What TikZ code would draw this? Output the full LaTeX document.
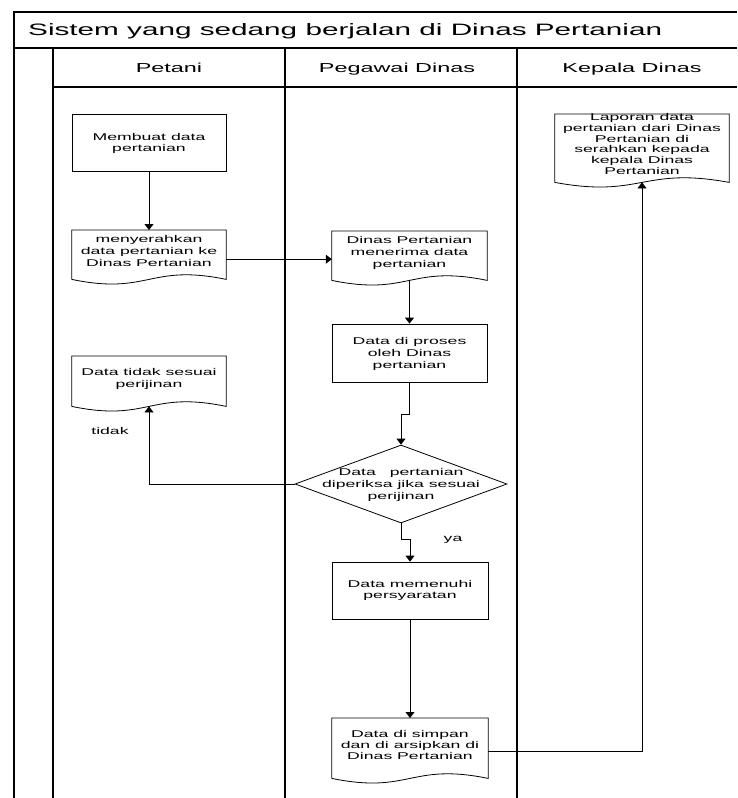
\documentclass[tikz,border=0pt]{standalone}
\usepackage{fontspec}
\setmainfont{Liberation Sans}[FakeStretch=1.8]
\usetikzlibrary{arrows.meta,shapes.geometric}

% outline of a document symbol: straight top and sides, wavy bottom edge
% #1 = name of the rectangular area node, #2 = its width
\newcommand\docoutline[2]{%
  \draw[shapeline] (#1.south west) -- (#1.north west) -- (#1.north east) -- (#1.south east)
    .. controls +(-0.5*#2,-16) and +(0.5*#2,16) .. (#1.south west);
}

\begin{document}
\begin{tikzpicture}[x=1pt,y=-1pt,
  frame/.style={line width=1.1pt},
  shapeline/.style={line width=0.8pt},
  flowline/.style={line width=0.8pt},
  arrowline/.style={flowline,-{Triangle[length=6pt,width=9pt]}},
  procbox/.style={draw,shapeline,rectangle,inner sep=0pt,minimum width=154pt,minimum height=57pt},
  docarea/.style={rectangle,inner sep=0pt,anchor=north},
  boxtext/.style={align=center,inner sep=0pt,font=\fontsize{9.8}{12}\selectfont},
  lanehead/.style={anchor=base,inner sep=0pt,font=\fontsize{13}{15}\selectfont},
]
\useasboundingbox (0,0) rectangle (737,798);

% swimlane frame
\draw[frame] (14,798) -- (14,12) -- (737,12);
\draw[frame] (14,48) -- (737,48);
\draw[frame] (53,87) -- (737,87);
\draw[frame] (53,48) -- (53,798);
\draw[frame] (285,48) -- (285,798);
\draw[frame] (517,48) -- (517,798);

\node[anchor=base west,inner sep=0pt,font=\fontsize{16.5}{18}\selectfont] (title) at (28,35)
  {Sistem yang sedang berjalan di Dinas Pertanian};
\node[lanehead] (lane-petani) at (169,72) {Petani};
\node[lanehead] (lane-pegawai) at (397,72) {Pegawai Dinas};
\node[lanehead] (lane-kepala) at (632,72) {Kepala Dinas};

% Petani
\node[procbox] (b1) at (149,143) {};
\node[boxtext,font=\fontsize{9.8}{11}\selectfont] (b1-text) at (149,143) {Membuat data\\pertanian};

\node[docarea,minimum width=154pt,minimum height=49pt] (d1) at (149,230) {};
\docoutline{d1}{154}
\node[boxtext] (d1-text) at (149,251) {menyerahkan\\data pertanian ke\\Dinas Pertanian};

\node[docarea,minimum width=154pt,minimum height=50pt] (d3) at (149,356) {};
\docoutline{d3}{154}
\node[boxtext] (d3-text) at (149,379) {Data tidak sesuai\\perijinan};

% Pegawai Dinas
\node[docarea,minimum width=155pt,minimum height=49pt] (d2) at (409.5,231) {};
\docoutline{d2}{155}
\node[boxtext] (d2-text) at (409.5,253) {Dinas Pertanian\\menerima data\\pertanian};

\node[procbox,minimum width=155pt,minimum height=58pt] (b3) at (409.5,353) {};
\node[boxtext] (b3-text) at (409.5,354) {Data di proses\\oleh Dinas\\pertanian};

\node[draw,shapeline,diamond,inner sep=0pt,minimum width=212pt,minimum height=78pt] (dec) at (401,484) {};
\node[boxtext] (dec-text) at (401,485) {Data\hspace{14pt}pertanian\\diperiksa jika sesuai\\perijinan};

\node[procbox,minimum width=156pt] (b4) at (410,590.5) {};
\node[boxtext,font=\fontsize{9.8}{11}\selectfont] (b4-text) at (410,590) {Data memenuhi\\persyaratan};

\node[docarea,minimum width=156pt,minimum height=60pt] (d5) at (410,718) {};
\docoutline{d5}{156}
\node[boxtext,font=\fontsize{9.8}{11}\selectfont] (d5-text) at (410,744.5) {Data di simpan\\dan di arsipkan di\\Dinas Pertanian};

% Kepala Dinas
\node[docarea,minimum width=174pt,minimum height=68pt] (d6) at (642,114) {};
\docoutline{d6}{174}
\node[boxtext,font=\fontsize{9.8}{10.8}\selectfont] (d6-text) at (642,144)
  {Laporan data\\pertanian dari Dinas\\Pertanian di\\serahkan kepada\\kepala Dinas\\Pertanian};

% connectors
\draw[arrowline] (b1.south) -- (d1.north);
\draw[arrowline] ([yshift=-4.5pt]d1.east) -- ([yshift=-4.5pt]d1.east -| d2.west);
\draw[arrowline] (d2.south) -- (b3.north);
\draw[arrowline] (b3.south) -- ++(0,32) -| (dec.north);
\draw[arrowline] (dec.west) -| (d3.south);
\draw[arrowline] (dec.south) -- ++(0,16) -| (b4.north);
\draw[arrowline] (b4.south) -- (d5.north);
\draw[arrowline] ([yshift=-3pt]d5.east) -| (d6.south);

\node[boxtext] (lbl-tidak) at (110,431) {tidak};
\node[boxtext] (lbl-ya) at (453,540) {ya};
\end{tikzpicture}
\end{document}
